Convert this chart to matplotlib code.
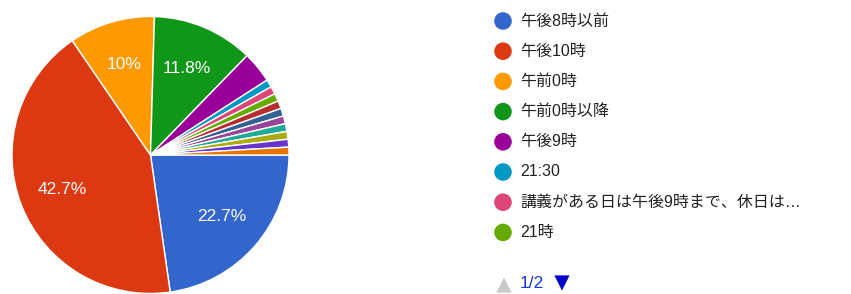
import matplotlib
matplotlib.use("Agg")
import matplotlib.pyplot as plt

plt.rcParams['font.family'] = ['Liberation Sans', 'Noto Sans CJK JP', 'DejaVu Sans']

# responses per answer (110 total), in chart order
counts = [25, 47, 11, 13, 4, 1, 1, 1, 1, 1, 1, 1, 1, 1, 1]
colors = ['#3366cc', '#dc3912', '#ff9900', '#109618', '#990099', '#0099c6',
          '#dd4477', '#66aa00', '#b82e2e', '#316395', '#994499', '#22aa99',
          '#aaaa11', '#6633cc', '#e67300']
# legend page 1/2 only shows the first eight answers
legend_labels = ['午後8時以前', '午後10時', '午前0時', '午前0時以降', '午後9時',
                 '21:30', '講義がある日は午後9時まで、休日は…', '21時']
page_text = '1/2'

W, H = 851, 294
fig = plt.figure(figsize=(W / 100, H / 100), dpi=100)

# pie
cx, cy, r = 150.5, 155, 138.5
ax = fig.add_axes([(cx - r) / W, (H - cy - r) / H, 2 * r / W, 2 * r / H])


def fmt(p):
    if p < 5:
        return ''
    s = f'{p:.1f}'
    if s.endswith('.0'):
        s = s[:-2]
    return s + '%'


wedges, texts, autotexts = ax.pie(
    counts, colors=colors, startangle=0, counterclock=False,
    autopct=fmt, pctdistance=0.68,
    wedgeprops=dict(edgecolor='white', linewidth=1),
    textprops=dict(color='white', fontsize=12.5))
ax.set_aspect('equal')
ax.set_xlim(-1, 1)
ax.set_ylim(-1, 1)

# legend drawn in pixel space
lg = fig.add_axes([0, 0, 1, 1])
lg.set_xlim(0, W)
lg.set_ylim(H, 0)
lg.axis('off')
x0, y0, dy = 503, 21, 30.2
for i, lab in enumerate(legend_labels):
    y = y0 + i * dy
    lg.scatter([x0], [y], s=160, color=colors[i], edgecolors='none')
    lg.text(x0 + 17, y, lab, fontsize=11.5, color='#222222', va='center', ha='left')

# pager
lg.scatter([504], [285], s=120, marker='^', color='#c8c8c8', edgecolors='none')
lg.text(520, 283, page_text, fontsize=12.5, color='#1a33cc', va='center', ha='left')
lg.scatter([562], [283], s=120, marker='v', color='#0000cc', edgecolors='none')

fig.savefig('out.png', dpi=100)
